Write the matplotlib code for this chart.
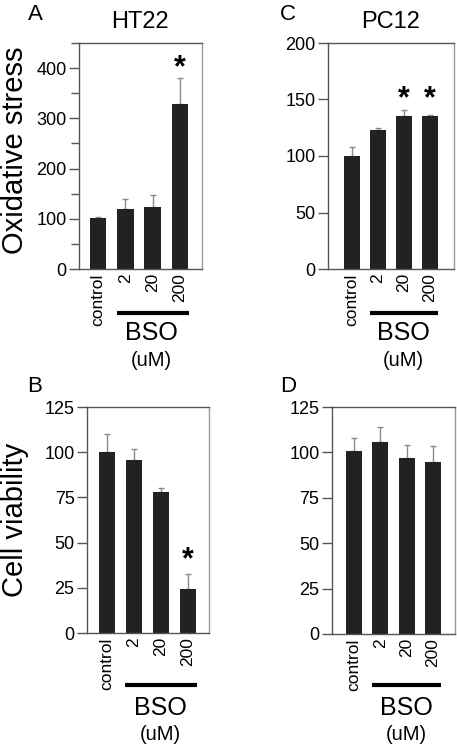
import matplotlib
matplotlib.use("Agg")
import matplotlib.pyplot as plt
from matplotlib.ticker import MultipleLocator
import matplotlib.transforms as mtransforms

plt.rcParams['font.family'] = ['Liberation Sans', 'DejaVu Sans']

groups = ['control', '2', '20', '200']

# HT22 oxidative stress (A)
ht22_ox = [101, 119, 123, 328]
ht22_ox_err = [2, 21, 25, 52]
# PC12 oxidative stress (C)
pc12_ox = [100, 123, 135, 135]
pc12_ox_err = [8, 2, 6, 1]
# HT22 cell viability (B)
ht22_via = [100, 95.5, 78, 24.5]
ht22_via_err = [10, 6.5, 2, 8]
# PC12 cell viability (D)
pc12_via = [100.5, 106, 97, 94.5]
pc12_via_err = [7.5, 8, 7, 9]

# significance marks (group index, y position)
stars_a = [(3, 400)]
stars_c = [(2, 150), (3, 150)]
stars_b = [(3, 40)]

W, H = 457, 750
fig = plt.figure(figsize=(W / 100, H / 100), dpi=100)


def px_axes(l, r, t, b):
    return fig.add_axes([l / W, 1 - b / H, (r - l) / W, (b - t) / H])


def panel(ax, vals, errs, ylim, major, minor, xlim, stars, line_y):
    x = list(range(len(vals)))
    ax.bar(x, vals, width=0.6, color='#222222', zorder=2)
    ax.errorbar(x, vals, yerr=[[0] * len(errs), errs], fmt='none',
                ecolor='#8a8a8a', elinewidth=1, capsize=2.5, capthick=1, zorder=1)
    ax.set_xlim(*xlim)
    ax.set_ylim(*ylim)
    ax.yaxis.set_major_locator(MultipleLocator(major))
    if minor:
        ax.yaxis.set_minor_locator(MultipleLocator(minor))
    ax.set_xticks(x)
    ax.set_xticklabels(groups, rotation=90, fontsize=12.5, va='top')
    ax.tick_params(axis='x', length=0, pad=3)
    ax.tick_params(axis='y', which='major', length=7, width=1, color='#555555',
                   labelsize=13, pad=2)
    ax.tick_params(axis='y', which='minor', length=6, width=1, color='#555555')
    for s in ['left', 'bottom', 'top']:
        ax.spines[s].set_color('#555555')
        ax.spines[s].set_linewidth(1)
    ax.spines['right'].set_color('#999999')
    ax.spines['right'].set_linewidth(1)
    for i, y in stars:
        ax.text(i, y, '*', ha='center', va='center', fontsize=22,
                fontweight='bold', clip_on=False)
    # BSO bracket under the treated groups (x in data, y in figure)
    trans = mtransforms.blended_transform_factory(ax.transData, fig.transFigure)
    ax.plot([0.68, 3.32], [1 - line_y / H] * 2, color='black', lw=3,
            clip_on=False, transform=trans, solid_capstyle='butt')


axA = px_axes(79, 202, 43, 269)
panel(axA, ht22_ox, ht22_ox_err, (0, 450), 100, 50, (-0.695, 3.805), stars_a, 313)
axC = px_axes(328, 454, 43, 269)
panel(axC, pc12_ox, pc12_ox_err, (0, 200), 50, None, (-0.92, 3.92), stars_c, 313)
axB = px_axes(87, 209, 407, 633)
panel(axB, ht22_via, ht22_via_err, (0, 125), 25, None, (-0.74, 3.78), stars_b, 685)
axD = px_axes(332, 455, 407, 634)
panel(axD, pc12_via, pc12_via_err, (0, 125), 25, None, (-0.84, 3.84), [], 685)

# titles and panel letters
fig.text(140 / W, 1 - 22 / H, 'HT22', ha='center', va='center', fontsize=17)
fig.text(391 / W, 1 - 22 / H, 'PC12', ha='center', va='center', fontsize=17)
fig.text(35 / W, 1 - 14 / H, 'A', ha='center', va='center', fontsize=16)
fig.text(288 / W, 1 - 14 / H, 'C', ha='center', va='center', fontsize=16)
fig.text(35 / W, 1 - 387 / H, 'B', ha='center', va='center', fontsize=16)
fig.text(288 / W, 1 - 387 / H, 'D', ha='center', va='center', fontsize=16)

# y labels
fig.text(15 / W, 1 - 150 / H, 'Oxidative stress', rotation=90, ha='center',
         va='center', fontsize=21)
fig.text(15 / W, 1 - 520 / H, 'Cell viability', rotation=90, ha='center',
         va='center', fontsize=21)

# BSO / (uM) labels
for cx, ybso, yum in [(151, 333, 360), (403, 333, 360),
                      (160, 708, 735), (406, 708, 735)]:
    fig.text(cx / W, 1 - ybso / H, 'BSO', ha='center', va='center', fontsize=18)
    fig.text(cx / W, 1 - yum / H, '(uM)', ha='center', va='center', fontsize=14.5)

fig.savefig('out.png', dpi=100)
